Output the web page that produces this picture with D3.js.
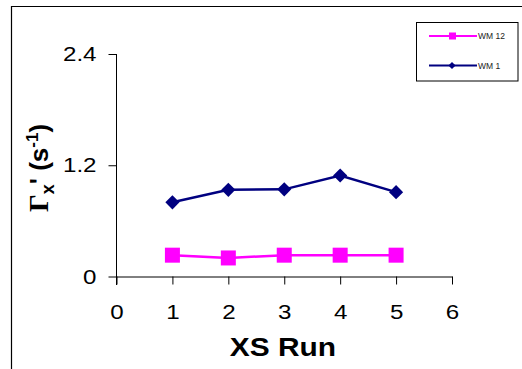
<!DOCTYPE html>
<html>
<head>
<meta charset="utf-8">
<script src="https://cdn.jsdelivr.net/npm/d3@7"></script>
<style>
  body { margin: 0; background: #fff; }
  svg { display: block; font-family: "Liberation Sans", Arial, sans-serif; }
</style>
</head>
<body>
<svg id="chart" width="522" height="369"></svg>
<script>
'use strict';
// data
const runs = [1, 2, 3, 4, 5];
const wm12 = [0.23, 0.20, 0.23, 0.23, 0.23];
const wm1 = [0.80, 0.935, 0.94, 1.09, 0.91];
const xTicks = [0, 1, 2, 3, 4, 5, 6];
const yTicks = [0, 1.2, 2.4];
const seriesNames = ["WM 12", "WM 1"];

// text in the original is slightly stretched sideways
const stretch = 1.15;

const svg = d3.select("#chart");

// outer frame (only top and left edges are visible)
svg.append("path")
  .attr("d", "M11.5,369V6.5H522")
  .attr("fill", "none")
  .attr("stroke", "#000")
  .attr("stroke-width", 1.2);

const x = d3.scaleLinear().domain([0, 6]).range([116.5, 452]);
const y = d3.scaleLinear().domain([0, 2.4]).range([276.5, 54]);

// y axis
const yAxis = svg.append("g")
  .attr("transform", "translate(116.5,0)")
  .call(d3.axisLeft(y).tickValues(yTicks).tickFormat(d => d === 0 ? "0" : d3.format(".1f")(d)).tickSizeInner(8).tickSizeOuter(0));
yAxis.select(".domain").attr("d", "M0,54V285");
yAxis.selectAll("text")
  .attr("font-size", 21).attr("font-family", "Liberation Sans, Arial, sans-serif")
  .attr("x", -20 / stretch)
  .attr("transform", `scale(${stretch},1)`);

// x axis
const xAxis = svg.append("g")
  .attr("transform", "translate(0,276.5)")
  .call(d3.axisBottom(x).tickValues(xTicks).tickFormat(d3.format("d")).tickSizeInner(8).tickSizeOuter(0).tickPadding(20));
xAxis.selectAll("text")
  .attr("font-size", 21).attr("font-family", "Liberation Sans, Arial, sans-serif")
  .attr("transform", `scale(${stretch},1)`);
svg.selectAll(".domain, .tick line").attr("stroke", "#000").attr("stroke-width", 1);

// axis titles
svg.append("text")
  .attr("transform", `translate(283,356) scale(${stretch},1)`)
  .attr("text-anchor", "middle")
  .attr("font-size", 26).attr("font-weight", "bold")
  .text("XS Run");

const yl = svg.append("text")
  .attr("transform", "translate(48,168) rotate(-90)")
  .attr("text-anchor", "middle")
  .attr("font-size", 26).attr("font-weight", "bold");
yl.append("tspan").attr("font-family", "Liberation Serif, Times New Roman, serif").attr("font-size", 28).text("Γ");
yl.append("tspan").attr("font-size", 18).attr("dy", 6).text("x");
yl.append("tspan").attr("dy", -6).text("' (s");
yl.append("tspan").attr("font-size", 17).attr("dy", -10).text("-1");
yl.append("tspan").attr("dy", 10).text(")");

// series
const line = d3.line().x((d, i) => x(runs[i])).y(d => y(d));
const magenta = "#ff00ff", navy = "#000080";

svg.append("path").datum(wm12).attr("d", line)
  .attr("fill", "none").attr("stroke", magenta).attr("stroke-width", 2.5);
svg.append("path").datum(wm1).attr("d", line)
  .attr("fill", "none").attr("stroke", navy).attr("stroke-width", 2.5);

svg.append("g").selectAll("rect").data(wm12).join("rect")
  .attr("x", (d, i) => x(runs[i]) - 7.5)
  .attr("y", d => y(d) - 7.5)
  .attr("width", 15).attr("height", 15)
  .attr("fill", magenta);

svg.append("g").selectAll("path").data(wm1).join("path")
  .attr("transform", (d, i) => `translate(${x(runs[i])},${y(d)}) rotate(45)`)
  .attr("d", d3.symbol().type(d3.symbolSquare).size(100))
  .attr("fill", navy);

// legend
svg.append("rect")
  .attr("x", 416.5).attr("y", 22.5).attr("width", 101.5).attr("height", 58.5)
  .attr("fill", "#fff").attr("stroke", "#000").attr("stroke-width", 1);

const lg = svg.append("g");
const legendRows = [
  { name: seriesNames[0], color: magenta, shape: "square", cy: 36 },
  { name: seriesNames[1], color: navy, shape: "diamond", cy: 65.5 }
];
legendRows.forEach(r => {
  lg.append("line")
    .attr("x1", 429).attr("x2", 477).attr("y1", r.cy).attr("y2", r.cy)
    .attr("stroke", r.color).attr("stroke-width", 2);
  if (r.shape === "square") {
    lg.append("rect").attr("x", 449).attr("y", r.cy - 3.5).attr("width", 7).attr("height", 7).attr("fill", r.color);
  } else {
    lg.append("path")
      .attr("transform", `translate(452,${r.cy}) rotate(45)`)
      .attr("d", d3.symbol().type(d3.symbolSquare).size(26))
      .attr("fill", r.color);
  }
  lg.append("text")
    .attr("x", 478).attr("y", r.cy + 3)
    .attr("font-size", 8.5)
    .attr("fill", "#222")
    .text(r.name);
});
</script>
</body>
</html>
